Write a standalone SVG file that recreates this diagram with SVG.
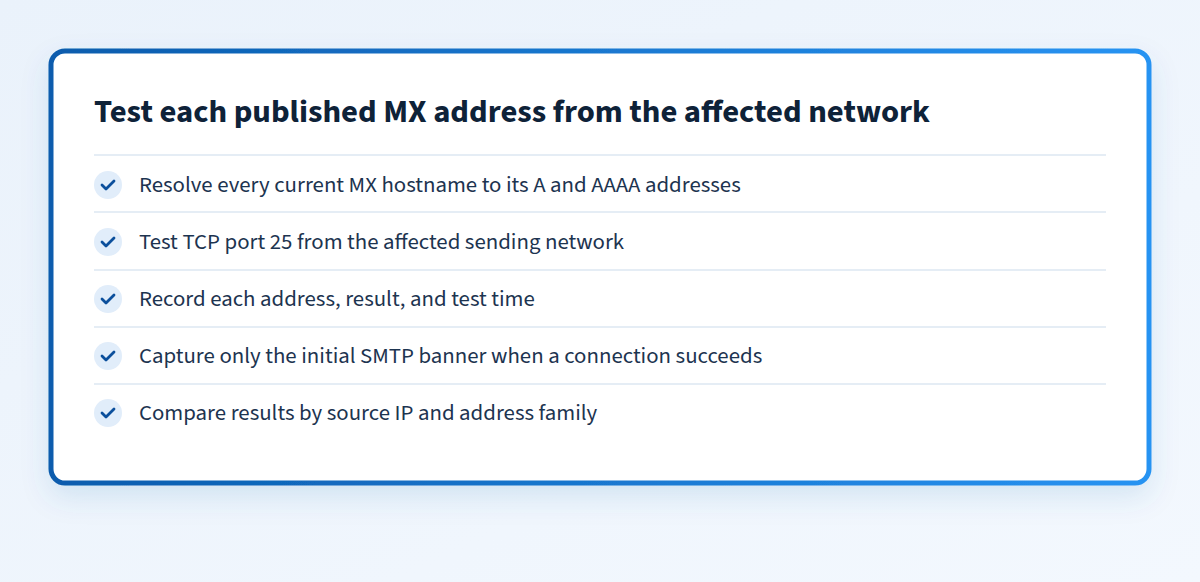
<svg xmlns="http://www.w3.org/2000/svg" width="1200" height="582" viewBox="0 0 1200 582">
<defs>
<linearGradient id="bg" x1="0" y1="0" x2="1" y2="1"><stop offset="0" stop-color="#eaf2fb"/><stop offset="1" stop-color="#f3f8fe"/></linearGradient>
<linearGradient id="bd" x1="0" y1="0" x2="1" y2="0"><stop offset="0" stop-color="#0b5cad"/><stop offset="1" stop-color="#2893f2"/></linearGradient>
<filter id="sh" x="-10%" y="-20%" width="120%" height="150%"><feDropShadow dx="0" dy="12" stdDeviation="14" flood-color="#1c5fa8" flood-opacity="0.12"/></filter>
<g id="chk"><circle r="14" fill="#e1edfa"/><path d="M-6,0 L-2,4 L6,-4" fill="none" stroke="#0b4f9c" stroke-width="2.8" stroke-linecap="round" stroke-linejoin="round"/></g>
</defs>
<style>
.t{font-family:"Source Sans 3","Noto Sans","Open Sans",sans-serif;fill:#0e2238}
.h{font-size:32px;font-weight:700}
.i{font-size:22.8px;fill:#1d3450}
.sep{stroke:#dde7f2;stroke-width:1.5}
</style>
<rect width="1200" height="582" fill="url(#bg)"/>
<g id="card">
<rect x="51" y="51" width="1098" height="432" rx="14" fill="#fff" stroke="url(#bd)" stroke-width="5" filter="url(#sh)"/>
<text class="t h" x="94" y="122" textLength="836" lengthAdjust="spacingAndGlyphs">Test each published MX address from the affected network</text>
</g>
<g id="separators">
<line class="sep" x1="94" y1="155" x2="1106" y2="155"/>
<line class="sep" x1="94" y1="212" x2="1106" y2="212"/>
<line class="sep" x1="94" y1="270" x2="1106" y2="270"/>
<line class="sep" x1="94" y1="327" x2="1106" y2="327"/>
<line class="sep" x1="94" y1="384" x2="1106" y2="384"/>
</g>
<g id="item1"><use href="#chk" x="108" y="185"/><text class="t i" x="139" y="192">Resolve every current MX hostname to its A and AAAA addresses</text></g>
<g id="item2"><use href="#chk" x="108" y="242"/><text class="t i" x="139" y="249">Test TCP port 25 from the affected sending network</text></g>
<g id="item3"><use href="#chk" x="108" y="299"/><text class="t i" x="139" y="306">Record each address, result, and test time</text></g>
<g id="item4"><use href="#chk" x="108" y="356"/><text class="t i" x="139" y="363">Capture only the initial SMTP banner when a connection succeeds</text></g>
<g id="item5"><use href="#chk" x="108" y="413"/><text class="t i" x="139" y="420">Compare results by source IP and address family</text></g>
</svg>
